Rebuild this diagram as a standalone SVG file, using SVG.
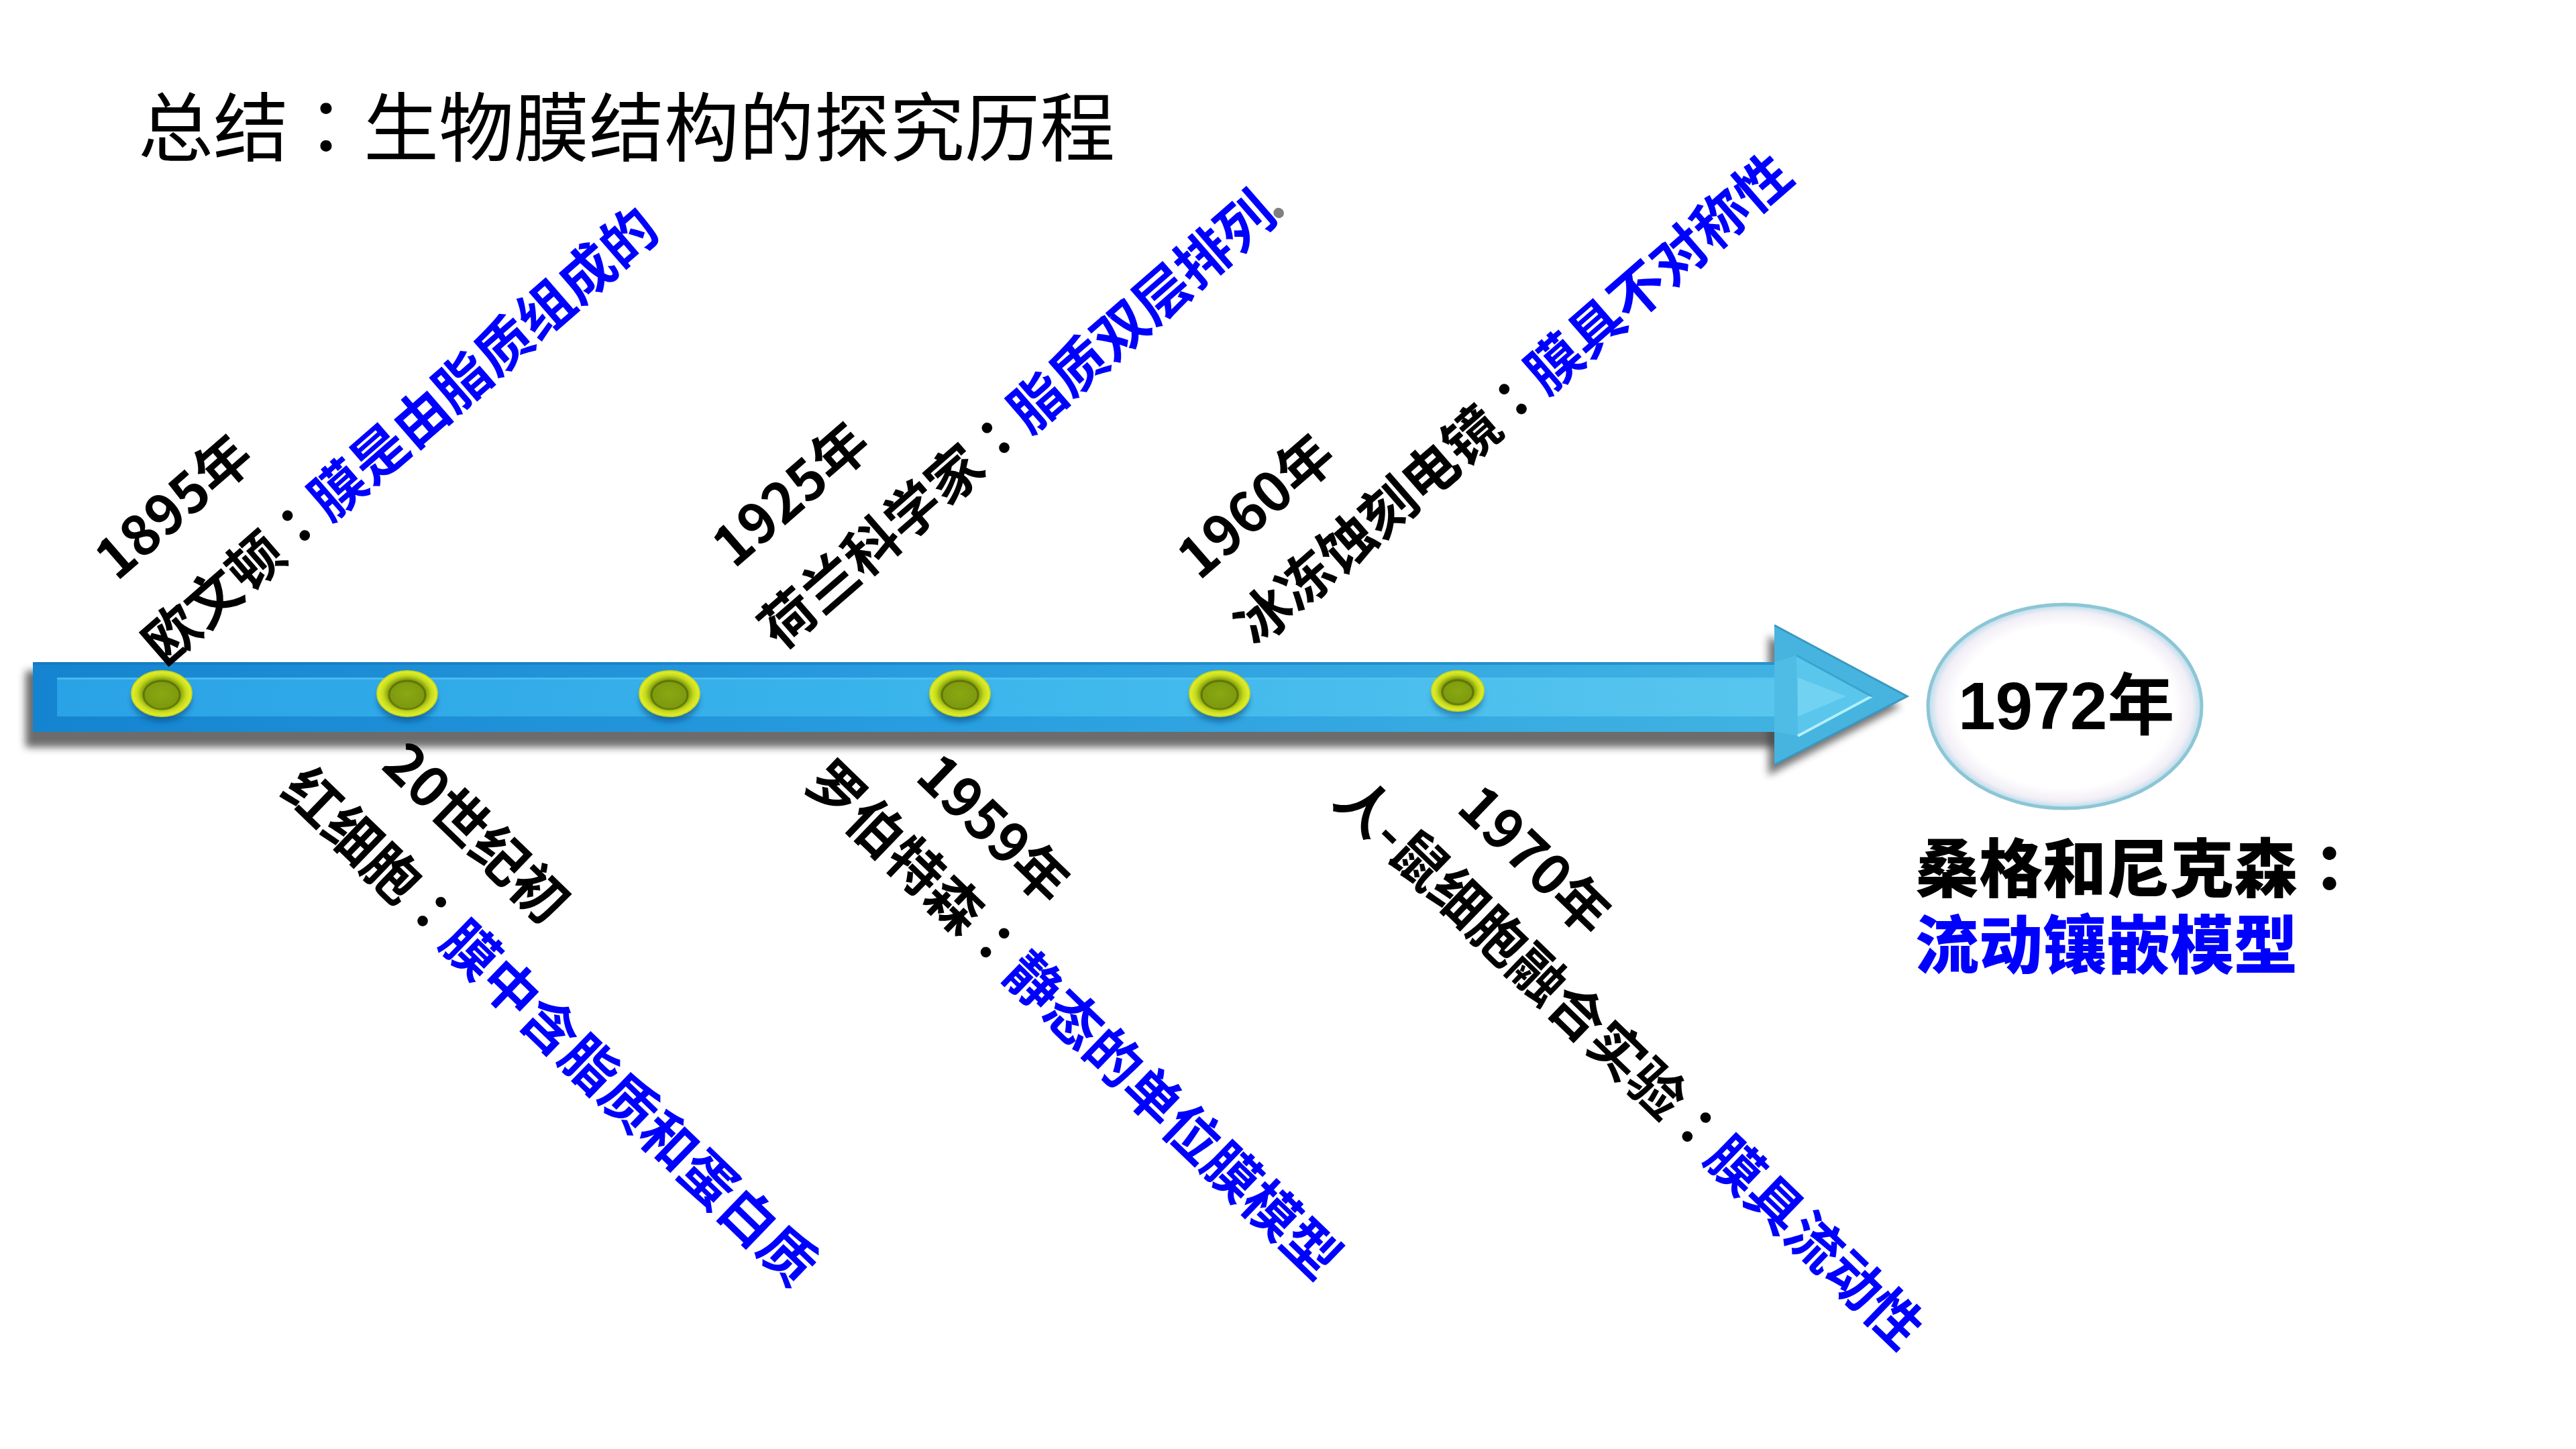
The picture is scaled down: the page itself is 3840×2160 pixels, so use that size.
<svg xmlns="http://www.w3.org/2000/svg" width="3840" height="2160" viewBox="0 0 3840 2160">
<style>
.lbl{font-family:"Noto Sans CJK SC","Noto Sans",sans-serif;font-weight:700;font-size:82px;fill:#000}
.blue{fill:#0000ff}
.c{font-family:"Noto Sans CJK TC","Noto Sans CJK SC",sans-serif}
.title{font-family:"Noto Sans CJK SC",sans-serif;font-weight:400;font-size:112px;fill:#000}
.big{font-family:"Noto Sans CJK SC",sans-serif;font-weight:900;font-size:95px}
.yr{font-family:"Liberation Sans","Noto Sans CJK SC",sans-serif;font-weight:700;font-size:100px;fill:#000}
</style>
<defs>
<filter id="blur" x="-10%" y="-50%" width="120%" height="200%"><feGaussianBlur stdDeviation="6"/></filter>
<filter id="blur2" x="-50%" y="-50%" width="200%" height="200%"><feGaussianBlur stdDeviation="4"/></filter>
<linearGradient id="bodyH" x1="0" y1="0" x2="1" y2="0">
<stop offset="0" stop-color="#1584d0"/><stop offset="0.55" stop-color="#2a9fe0"/><stop offset="1" stop-color="#40b2e2"/>
</linearGradient>
<linearGradient id="innerH" x1="0" y1="0" x2="1" y2="0">
<stop offset="0" stop-color="#2aa2e6"/><stop offset="0.55" stop-color="#3cb6ec"/><stop offset="1" stop-color="#58c6ee"/>
</linearGradient>
<radialGradient id="bead" cx="0.5" cy="0.5" r="0.5">
<stop offset="0" stop-color="#8aa812"/><stop offset="0.6" stop-color="#7c9a0e"/><stop offset="0.8" stop-color="#c6da1c"/><stop offset="1" stop-color="#e6f232"/>
</radialGradient>
<radialGradient id="oval" cx="0.5" cy="0.5" r="0.5">
<stop offset="0" stop-color="#ffffff"/><stop offset="0.8" stop-color="#ffffff"/><stop offset="0.93" stop-color="#f2eef6"/><stop offset="1" stop-color="#b6dcea"/>
</radialGradient>
</defs>
<rect width="3840" height="2160" fill="#ffffff"/>

<g id="title"><text class="title" x="206" y="232">总结<tspan class="c">：</tspan>生物膜结构的探究历程</text></g>

<g id="connectors">
<rect x="38" y="1000" width="2612" height="114" fill="#3a3a3a" opacity="0.75" filter="url(#blur)"/>
<polygon points="2636,948 2833,1053 2636,1156" fill="#3a3a3a" opacity="0.7" filter="url(#blur)"/>
<rect x="49" y="987" width="2600" height="104" fill="url(#bodyH)"/>
<rect x="49" y="987" width="2600" height="4" fill="#1670b4" opacity="0.5"/>
<rect x="85" y="1010" width="2564" height="58" fill="url(#innerH)"/>
<rect x="85" y="1010" width="2564" height="3" fill="#56c2f0" opacity="0.7"/>
<polygon points="2645,932 2843,1038 2645,1140" fill="#46b4de"/>
<polyline points="2645,932 2843,1038 2645,1140" fill="none" stroke="#3a98c0" stroke-width="3"/>
<polygon points="2645,987 2678,977 2790,1038 2680,1097 2645,1091" fill="#4fbce6"/>
<polygon points="2678,977 2790,1038 2680,1097" fill="#5ac6ec"/>
<polygon points="2680,1010 2752,1038 2680,1068" fill="#72d2f2"/>
<line x1="2680" y1="1097" x2="2790" y2="1038" stroke="#b2f0fb" stroke-width="4"/>
<line x1="2678" y1="977" x2="2790" y2="1038" stroke="#3aa4d0" stroke-width="3"/>
</g>

<g id="beads">
<g id="bead1"><ellipse cx="241" cy="1044" rx="44" ry="32" fill="#0a4a80" opacity="0.6" filter="url(#blur2)"/><ellipse cx="241" cy="1034" rx="45" ry="34" fill="url(#bead)" stroke="#c8d81c" stroke-width="2"/><ellipse cx="241" cy="1036" rx="27" ry="21" fill="none" stroke="#4e5e04" stroke-width="3" opacity="0.6"/></g>
<g id="bead2"><ellipse cx="607" cy="1044" rx="44" ry="32" fill="#0a4a80" opacity="0.6" filter="url(#blur2)"/><ellipse cx="607" cy="1034" rx="45" ry="34" fill="url(#bead)" stroke="#c8d81c" stroke-width="2"/><ellipse cx="607" cy="1036" rx="27" ry="21" fill="none" stroke="#4e5e04" stroke-width="3" opacity="0.6"/></g>
<g id="bead3"><ellipse cx="998" cy="1044" rx="44" ry="32" fill="#0a4a80" opacity="0.6" filter="url(#blur2)"/><ellipse cx="998" cy="1034" rx="45" ry="34" fill="url(#bead)" stroke="#c8d81c" stroke-width="2"/><ellipse cx="998" cy="1036" rx="27" ry="21" fill="none" stroke="#4e5e04" stroke-width="3" opacity="0.6"/></g>
<g id="bead4"><ellipse cx="1431" cy="1044" rx="44" ry="32" fill="#0a4a80" opacity="0.6" filter="url(#blur2)"/><ellipse cx="1431" cy="1034" rx="45" ry="34" fill="url(#bead)" stroke="#c8d81c" stroke-width="2"/><ellipse cx="1431" cy="1036" rx="27" ry="21" fill="none" stroke="#4e5e04" stroke-width="3" opacity="0.6"/></g>
<g id="bead5"><ellipse cx="1818" cy="1044" rx="44" ry="32" fill="#0a4a80" opacity="0.6" filter="url(#blur2)"/><ellipse cx="1818" cy="1034" rx="45" ry="34" fill="url(#bead)" stroke="#c8d81c" stroke-width="2"/><ellipse cx="1818" cy="1036" rx="27" ry="21" fill="none" stroke="#4e5e04" stroke-width="3" opacity="0.6"/></g>
<g id="bead6"><ellipse cx="2173" cy="1040" rx="38" ry="28" fill="#0a4a80" opacity="0.5" filter="url(#blur2)"/><ellipse cx="2173" cy="1030" rx="39" ry="30" fill="url(#bead)" stroke="#c8d81c" stroke-width="2"/><ellipse cx="2173" cy="1032" rx="23" ry="18" fill="none" stroke="#4e5e04" stroke-width="3" opacity="0.6"/></g>
</g>

<g id="node-1895" transform="translate(226,1011) rotate(-41)">
<text class="lbl" x="55" y="-142">1895年</text>
<text class="lbl" x="25" y="0">欧文顿<tspan class="c">：</tspan><tspan class="blue">膜是由脂质组成的</tspan></text>
</g>
<g id="node-1925" transform="translate(1145,988) rotate(-41)">
<text class="lbl" x="53" y="-138">1925年</text>
<text class="lbl" x="25" y="0">荷兰科学家<tspan class="c">：</tspan><tspan class="blue">脂质双层排列</tspan><tspan fill="#808080" dx="-8">.</tspan></text>
</g>
<g id="node-1960" transform="translate(1854,984) rotate(-41)">
<text class="lbl" x="27" y="-132">1960年</text>
<text class="lbl" x="25" y="0">冰冻蚀刻电镜<tspan class="c">：</tspan><tspan class="blue">膜具不对称性</tspan></text>
</g>
<g id="node-20c" transform="translate(396,1162) rotate(44)">
<text class="lbl" x="110" y="-131">20世纪初</text>
<text class="lbl" x="28" y="0">红细胞<tspan class="c">：</tspan><tspan class="blue">膜中含脂质和蛋白质</tspan></text>
</g>
<g id="node-1959" transform="translate(1175,1150) rotate(44)">
<text class="lbl" x="142" y="-122">1959年</text>
<text class="lbl" x="30" y="0">罗伯特森<tspan class="c">：</tspan><tspan class="blue">静态的单位膜模型</tspan></text>
</g>
<g id="node-1970" transform="translate(1963,1176) rotate(44)">
<text class="lbl" x="170" y="-120">1970年</text>
<text class="lbl" x="30" y="0">人-鼠细胞融合实验<tspan class="c">：</tspan><tspan class="blue">膜具流动性</tspan></text>
</g>

<g id="node-1972">
<ellipse cx="3078" cy="1053" rx="204" ry="152" fill="url(#oval)" stroke="#8cc6d6" stroke-width="5"/>
<text class="yr" x="2919" y="1087">1972年</text>
<text class="big" x="2855" y="1330" fill="#000000">桑格和尼克森<tspan class="c">：</tspan></text>
<text class="big" x="2855" y="1444" fill="#0000ff">流动镶嵌模型</text>
</g>
</svg>
